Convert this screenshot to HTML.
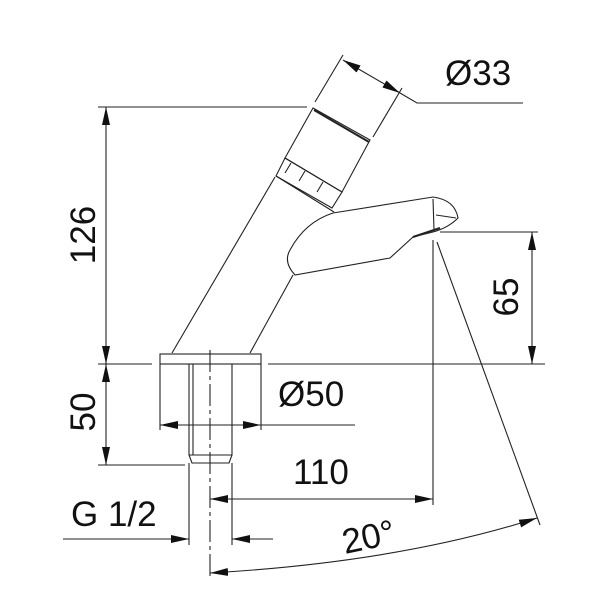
<!DOCTYPE html>
<html><head><style>html,body{margin:0;padding:0;background:#fff}svg{display:block}
text{font-family:"Liberation Sans",sans-serif;fill:#111}</style></head><body>
<svg width="600" height="600" viewBox="0 0 600 600" xmlns="http://www.w3.org/2000/svg">
<defs>
<marker id="a" viewBox="0 0 18 8" refX="18" refY="4" markerWidth="18" markerHeight="9" markerUnits="userSpaceOnUse" orient="auto-start-reverse"><path d="M0,0 L18,4 L0,8 Z" fill="#111"/></marker>
</defs>
<g stroke="#222" stroke-width="1.1" fill="none">
<line x1="98" y1="107" x2="307" y2="107"/>
<line x1="98" y1="364" x2="152" y2="364"/>
<line x1="268" y1="364" x2="545" y2="364"/>
<line x1="98" y1="465" x2="185" y2="465"/>
<line x1="106" y1="107" x2="106" y2="364" marker-start="url(#a)" marker-end="url(#a)"/>
<line x1="106" y1="364" x2="106" y2="465" marker-start="url(#a)" marker-end="url(#a)"/>
<line x1="440" y1="232" x2="538" y2="232"/>
<line x1="532" y1="232" x2="532" y2="364" marker-start="url(#a)" marker-end="url(#a)"/>
<line x1="315" y1="102" x2="343" y2="55"/>
<line x1="373" y1="137" x2="402" y2="88"/>
<line x1="343" y1="60" x2="400" y2="93" marker-start="url(#a)" marker-end="url(#a)"/>
<polyline points="400,93 417,103 523,103"/>
<line x1="433" y1="240" x2="433" y2="505"/>
<line x1="437" y1="242" x2="540" y2="525"/>
<line x1="160" y1="425" x2="261" y2="425" marker-start="url(#a)" marker-end="url(#a)"/>
<line x1="261" y1="425" x2="355" y2="425"/>
<line x1="210" y1="499" x2="433" y2="499" marker-start="url(#a)" marker-end="url(#a)"/>
<line x1="189" y1="463" x2="189" y2="545"/>
<line x1="232" y1="463" x2="232" y2="545"/>
<line x1="63" y1="539" x2="189" y2="539" marker-end="url(#a)"/>
<line x1="273" y1="539" x2="232" y2="539" marker-end="url(#a)"/>
<line x1="210" y1="350" x2="210" y2="580" stroke-dasharray="22,4,4,4"/>
<path d="M210,573 Q400,562 537,518" marker-start="url(#a)" marker-end="url(#a)"/>
<line x1="275" y1="177" x2="172" y2="353"/>
<line x1="293" y1="275" x2="250" y2="353"/>
<polygon points="313,108 370,140 342,192 285,158"/>
<line x1="314" y1="110" x2="369" y2="142" stroke-width="2"/>
<polygon points="285,158 342,192 332,208 276,176"/>
<line x1="291" y1="163" x2="285" y2="173"/>
<line x1="305" y1="171" x2="299" y2="181"/>
<line x1="323" y1="182" x2="317" y2="192"/>
<line x1="276" y1="176" x2="334" y2="212"/>
<path d="M333,213 L433,197 Q455,200 458,218 Q448,228 433,232 L413,237 L390,258 L295,275 Q283,262 290,250 Q305,222 333,213"/>
<path d="M433,199 L434,230 M436,215 L456,218"/>
<line x1="413" y1="237" x2="440" y2="228" stroke-width="2"/>
<rect x="160" y="354" width="101" height="10"/>
<line x1="160" y1="364" x2="160" y2="430"/>
<line x1="261" y1="364" x2="261" y2="430"/>
<path d="M189,364 L189,455 L192,463 L229,463 L232,455 L232,364"/>
<line x1="193" y1="364" x2="193" y2="455"/>
<line x1="189" y1="455" x2="232" y2="455"/>
</g>
<g font-size="35">
<text x="445" y="85">Ø33</text>
<text x="278" y="406">Ø50</text>
<text x="293" y="484">110</text>
<text x="71" y="526">G 1/2</text>
<text transform="translate(345,554) rotate(-12)">20°</text>
<text text-anchor="middle" transform="translate(95,235) rotate(-90)">126</text>
<text text-anchor="middle" transform="translate(95,412) rotate(-90)">50</text>
<text text-anchor="middle" transform="translate(518,297) rotate(-90)">65</text>
</g>
</svg>
</body></html>
